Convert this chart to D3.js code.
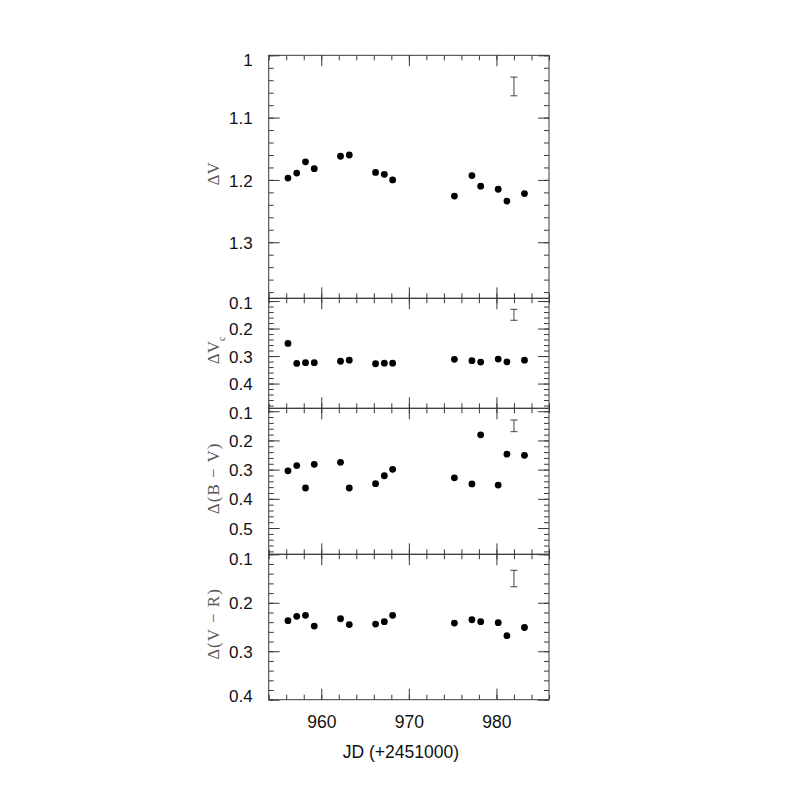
<!DOCTYPE html>
<html>
<head>
<meta charset="utf-8">
<script src="https://cdn.jsdelivr.net/npm/d3@7"></script>
<style>
  body { margin: 0; background: #fff; }
</style>
</head>
<body>
<div id="chart"></div>
<script>
// Observation dates (JD - 2451000) and the four light-curve series
var jd  = [956.2, 957.2, 958.2, 959.2, 962.2, 963.2, 966.2, 967.2, 968.15, 975.2, 977.2, 978.2, 980.2, 981.2, 983.2];
var dV  = [1.197, 1.189, 1.171, 1.182, 1.162, 1.160, 1.188, 1.191, 1.200, 1.226, 1.193, 1.210, 1.215, 1.234, 1.222];
var dVc = [0.254, 0.327, 0.324, 0.324, 0.319, 0.315, 0.328, 0.326, 0.326, 0.312, 0.317, 0.322, 0.311, 0.321, 0.315];
var dBV = [0.304, 0.286, 0.363, 0.282, 0.275, 0.363, 0.348, 0.321, 0.299, 0.328, 0.349, 0.181, 0.353, 0.247, 0.251];
var dVR = [0.237, 0.228, 0.226, 0.248, 0.233, 0.245, 0.244, 0.239, 0.226, 0.242, 0.235, 0.239, 0.241, 0.268, 0.251];

var series = [dV, dVc, dBV, dVR];
var panelLabels = [["ΔV", ""], ["ΔV", "c"], ["Δ(B − V)", ""], ["Δ(V − R)", ""]];
var yDomains = [[1.0, 1.39], [0.09, 0.49], [0.09, 0.59], [0.1, 0.4]];
var yMajor = [[1.0, 1.1, 1.2, 1.3], [0.1, 0.2, 0.3, 0.4], [0.1, 0.2, 0.3, 0.4, 0.5], [0.1, 0.2, 0.3, 0.4]];
var errJD = 982, errMid = [1.05, 0.15, 0.15, 0.15], errHalf = [0.015, 0.02, 0.02, 0.017];

var xDomain = [954, 986];
var xMajor = [960, 970, 980];
var xMinor = d3.range(954, 987, 2);

// layout
var margin = { top: 55.3, left: 268.7 };
var width = 280.3;
var panelH = [243, 110, 146, 145.4];
var frameColor = "#3a3a3a";

var svg = d3.select("#chart").append("svg")
    .attr("width", 797)
    .attr("height", 797);

var x = d3.scaleLinear().domain(xDomain).range([0, width]);

function minorTicks(dom, step) {
  var lo = Math.ceil(dom[0] / step - 1e-9), hi = Math.floor(dom[1] / step + 1e-9);
  return d3.range(lo, hi + 1).map(function(k) { return +(k * step).toFixed(4); });
}

function styleAxis(g) {
  g.select(".domain").remove();
  g.selectAll(".tick line").attr("stroke", frameColor).attr("stroke-width", 1);
  g.selectAll(".tick text")
    .style("font-family", "'Liberation Sans', Arial, Helvetica, sans-serif")
    .style("fill", "#111");
}

var offset = margin.top;
series.forEach(function(vals, p) {
  var h = panelH[p];
  var y = d3.scaleLinear().domain(yDomains[p]).range([0, h]);
  var minor = minorTicks(yDomains[p], 0.02);

  var g = svg.append("g")
      .attr("transform", "translate(" + margin.left + "," + offset + ")");

  // left axis with labels
  g.append("g").call(d3.axisLeft(y).tickValues(minor).tickSize(-5).tickFormat("")).call(styleAxis);
  var yl = g.append("g")
      .call(d3.axisLeft(y).tickValues(yMajor[p]).tickSize(-11).tickPadding(16)
        .tickFormat(function(d) { return String(+d.toFixed(2)); }))
      .call(styleAxis);
  yl.selectAll(".tick text").style("font-size", "17px")
    .attr("dy", function(d) {
      var py = y(d), c = Math.max(4, Math.min(h - 4, py));
      return (c - py + 6.1) + "px";
    });

  // right axis
  var gr = g.append("g").attr("transform", "translate(" + width + ",0)");
  gr.append("g").call(d3.axisRight(y).tickValues(minor).tickSize(-5).tickFormat("")).call(styleAxis);
  gr.append("g").call(d3.axisRight(y).tickValues(yMajor[p]).tickSize(-11).tickFormat("")).call(styleAxis);

  // top axis
  g.append("g").call(d3.axisTop(x).tickValues(xMinor).tickSize(-5).tickFormat("")).call(styleAxis);
  g.append("g").call(d3.axisTop(x).tickValues(xMajor).tickSize(-11).tickFormat("")).call(styleAxis);

  // bottom axis
  var gb = g.append("g").attr("transform", "translate(0," + h + ")");
  gb.append("g").call(d3.axisBottom(x).tickValues(xMinor).tickSize(-5).tickFormat("")).call(styleAxis);
  var xb = gb.append("g")
      .call(d3.axisBottom(x).tickValues(xMajor).tickSize(-11).tickPadding(16.3)
        .tickFormat(p === series.length - 1 ? d3.format("d") : ""))
      .call(styleAxis);
  xb.selectAll(".tick text").style("font-size", "17.5px");

  // frame
  g.append("rect")
    .attr("width", width)
    .attr("height", h)
    .attr("fill", "none")
    .attr("stroke", frameColor)
    .attr("stroke-width", 1);

  // typical error bar
  var ex = x(errJD);
  var eb = g.append("g").attr("stroke", "#444").attr("stroke-width", 1);
  eb.append("line").attr("x1", ex).attr("x2", ex)
    .attr("y1", y(errMid[p] - errHalf[p])).attr("y2", y(errMid[p] + errHalf[p]));
  [-1, 1].forEach(function(s) {
    eb.append("line").attr("x1", ex - 3.5).attr("x2", ex + 3.5)
      .attr("y1", y(errMid[p] + s * errHalf[p])).attr("y2", y(errMid[p] + s * errHalf[p]));
  });

  // data points
  g.selectAll(".dot")
    .data(vals)
    .enter().append("circle")
      .attr("class", "dot")
      .attr("cx", function(d, i) { return x(jd[i]); })
      .attr("cy", function(d) { return y(d); })
      .attr("r", 3.4)
      .attr("fill", "#000");

  // panel y label
  var lab = svg.append("text")
      .attr("transform", "translate(219," + (offset + h / 2 - 3) + ") rotate(-90)")
      .attr("text-anchor", "middle")
      .style("font-family", "'Liberation Serif', 'DejaVu Serif', serif")
      .style("font-size", "17px")
      .style("letter-spacing", p < 2 ? "0px" : "1px")
      .style("fill", "#555");
  lab.append("tspan").text(panelLabels[p][0]);
  if (panelLabels[p][1]) {
    lab.append("tspan").attr("dy", "6px").style("font-size", "10px").text(panelLabels[p][1]);
  }

  offset += h;
});

// x axis title
svg.append("text")
    .attr("x", margin.left + width / 2 - 8)
    .attr("y", offset + 58.5)
    .attr("text-anchor", "middle")
    .style("font-family", "'Liberation Sans', Arial, Helvetica, sans-serif")
    .style("font-size", "17.5px")
    .style("fill", "#111")
    .text("JD (+2451000)");
</script>
</body>
</html>
